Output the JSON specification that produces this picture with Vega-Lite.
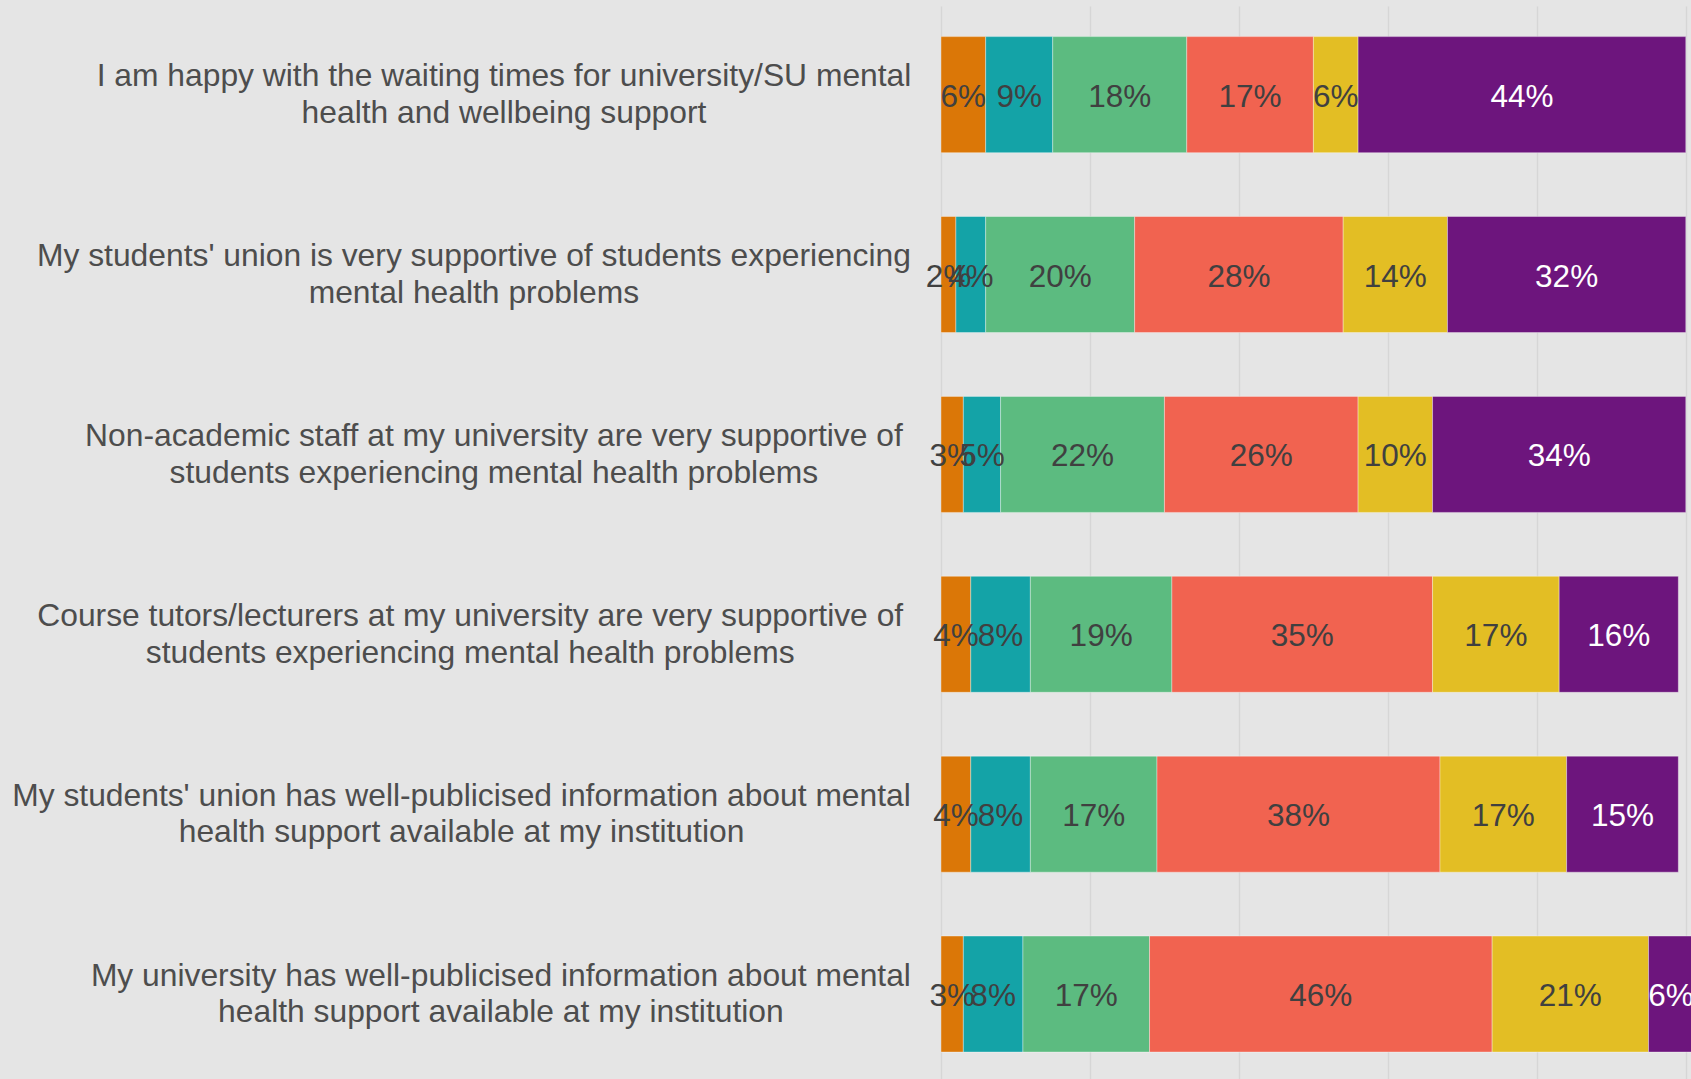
{
  "$schema": "https://vega.github.io/schema/vega-lite/v6.json",
  "width": 750,
  "height": 1073,
  "autosize": {"type": "none"},
  "padding": {"left": 941, "top": 6, "right": 0, "bottom": 0},
  "background": "#e5e5e5",
  "config": {"view": {"stroke": null, "fill": "#e5e5e5"}, "font": "Liberation Sans"},
  "data": {"values": [
    {"q": "I am happy with the waiting times for university/SU mental|health and wellbeing support", "cat": "Strongly disagree", "i": 1, "v": 0.06},
    {"q": "I am happy with the waiting times for university/SU mental|health and wellbeing support", "cat": "Disagree", "i": 2, "v": 0.09},
    {"q": "I am happy with the waiting times for university/SU mental|health and wellbeing support", "cat": "Neither agree nor disagree", "i": 3, "v": 0.18},
    {"q": "I am happy with the waiting times for university/SU mental|health and wellbeing support", "cat": "Agree", "i": 4, "v": 0.17},
    {"q": "I am happy with the waiting times for university/SU mental|health and wellbeing support", "cat": "Strongly agree", "i": 5, "v": 0.06},
    {"q": "I am happy with the waiting times for university/SU mental|health and wellbeing support", "cat": "Don't know", "i": 6, "v": 0.44},
    {"q": "My students' union is very supportive of students experiencing|mental health problems", "cat": "Strongly disagree", "i": 1, "v": 0.02},
    {"q": "My students' union is very supportive of students experiencing|mental health problems", "cat": "Disagree", "i": 2, "v": 0.04},
    {"q": "My students' union is very supportive of students experiencing|mental health problems", "cat": "Neither agree nor disagree", "i": 3, "v": 0.20},
    {"q": "My students' union is very supportive of students experiencing|mental health problems", "cat": "Agree", "i": 4, "v": 0.28},
    {"q": "My students' union is very supportive of students experiencing|mental health problems", "cat": "Strongly agree", "i": 5, "v": 0.14},
    {"q": "My students' union is very supportive of students experiencing|mental health problems", "cat": "Don't know", "i": 6, "v": 0.32},
    {"q": "Non-academic staff at my university are very supportive of|students experiencing mental health problems", "cat": "Strongly disagree", "i": 1, "v": 0.03},
    {"q": "Non-academic staff at my university are very supportive of|students experiencing mental health problems", "cat": "Disagree", "i": 2, "v": 0.05},
    {"q": "Non-academic staff at my university are very supportive of|students experiencing mental health problems", "cat": "Neither agree nor disagree", "i": 3, "v": 0.22},
    {"q": "Non-academic staff at my university are very supportive of|students experiencing mental health problems", "cat": "Agree", "i": 4, "v": 0.26},
    {"q": "Non-academic staff at my university are very supportive of|students experiencing mental health problems", "cat": "Strongly agree", "i": 5, "v": 0.10},
    {"q": "Non-academic staff at my university are very supportive of|students experiencing mental health problems", "cat": "Don't know", "i": 6, "v": 0.34},
    {"q": "Course tutors/lecturers at my university are very supportive of|students experiencing mental health problems", "cat": "Strongly disagree", "i": 1, "v": 0.04},
    {"q": "Course tutors/lecturers at my university are very supportive of|students experiencing mental health problems", "cat": "Disagree", "i": 2, "v": 0.08},
    {"q": "Course tutors/lecturers at my university are very supportive of|students experiencing mental health problems", "cat": "Neither agree nor disagree", "i": 3, "v": 0.19},
    {"q": "Course tutors/lecturers at my university are very supportive of|students experiencing mental health problems", "cat": "Agree", "i": 4, "v": 0.35},
    {"q": "Course tutors/lecturers at my university are very supportive of|students experiencing mental health problems", "cat": "Strongly agree", "i": 5, "v": 0.17},
    {"q": "Course tutors/lecturers at my university are very supportive of|students experiencing mental health problems", "cat": "Don't know", "i": 6, "v": 0.16},
    {"q": "My students' union has well-publicised information about mental|health support available at my institution", "cat": "Strongly disagree", "i": 1, "v": 0.04},
    {"q": "My students' union has well-publicised information about mental|health support available at my institution", "cat": "Disagree", "i": 2, "v": 0.08},
    {"q": "My students' union has well-publicised information about mental|health support available at my institution", "cat": "Neither agree nor disagree", "i": 3, "v": 0.17},
    {"q": "My students' union has well-publicised information about mental|health support available at my institution", "cat": "Agree", "i": 4, "v": 0.38},
    {"q": "My students' union has well-publicised information about mental|health support available at my institution", "cat": "Strongly agree", "i": 5, "v": 0.17},
    {"q": "My students' union has well-publicised information about mental|health support available at my institution", "cat": "Don't know", "i": 6, "v": 0.15},
    {"q": "My university has well-publicised information about mental|health support available at my institution", "cat": "Strongly disagree", "i": 1, "v": 0.03},
    {"q": "My university has well-publicised information about mental|health support available at my institution", "cat": "Disagree", "i": 2, "v": 0.08},
    {"q": "My university has well-publicised information about mental|health support available at my institution", "cat": "Neither agree nor disagree", "i": 3, "v": 0.17},
    {"q": "My university has well-publicised information about mental|health support available at my institution", "cat": "Agree", "i": 4, "v": 0.46},
    {"q": "My university has well-publicised information about mental|health support available at my institution", "cat": "Strongly agree", "i": 5, "v": 0.21},
    {"q": "My university has well-publicised information about mental|health support available at my institution", "cat": "Don't know", "i": 6, "v": 0.06}
  ]},
  "encoding": {
    "y": {
      "field": "q", "type": "nominal", "sort": null,
      "scale": {"paddingInner": 0.355, "paddingOuter": 0.16, "align": 0.532},
      "axis": {
        "title": null, "domain": false, "ticks": false, "tickSize": 0, "grid": false,
        "labelAlign": "center", "labelBaseline": "middle", "labelOffset": -18.4,
        "labelFont": "Liberation Sans", "labelFontSize": 31.8, "labelColor": "#4d4d4d",
        "labelLimit": 0, "labelLineHeight": 36.7, "labelOverlap": false, "labelFlush": false,
        "labelExpr": "split(datum.label, '|')",
        "labelPadding": {
          "condition": [
            {"test": "indexof(datum.value, 'waiting') >= 0", "value": 437.5},
            {"test": "indexof(datum.value, 'union is') >= 0", "value": 467.6},
            {"test": "indexof(datum.value, 'Non-academic') >= 0", "value": 447.6},
            {"test": "indexof(datum.value, 'Course tutors') >= 0", "value": 471.3},
            {"test": "indexof(datum.value, 'union has') >= 0", "value": 480},
            {"test": "indexof(datum.value, 'My university') >= 0", "value": 440.6}
          ],
          "value": 450
        }
      }
    }
  },
  "layer": [
    {
      "mark": {"type": "bar", "clip": true, "stroke": "white", "strokeWidth": 0.6, "strokeOpacity": 0.6},
      "encoding": {
        "x": {
          "field": "v", "type": "quantitative", "stack": "zero",
          "scale": {"domain": [0, 1.007], "nice": false, "zero": true},
          "axis": {
            "values": [0, 0.2, 0.4, 0.6, 0.8, 1.0], "labels": false, "ticks": false,
            "domain": false, "title": null, "grid": true, "gridColor": "#d6d6d6", "gridWidth": 1.4
          }
        },
        "color": {
          "field": "cat", "type": "nominal",
          "scale": {
            "domain": ["Strongly disagree", "Disagree", "Neither agree nor disagree", "Agree", "Strongly agree", "Don't know"],
            "range": ["#DB7707", "#14A3A7", "#5CBB80", "#F16350", "#E3BE24", "#6D157D"]
          },
          "legend": null
        },
        "order": {"field": "i", "type": "quantitative"}
      }
    },
    {
      "mark": {"type": "text", "font": "Liberation Sans", "fontSize": 31.5, "baseline": "middle", "align": "center", "dy": 3},
      "encoding": {
        "x": {"field": "v", "type": "quantitative", "stack": "zero", "bandPosition": 0.5},
        "detail": {"field": "cat"},
        "order": {"field": "i", "type": "quantitative"},
        "text": {"field": "v", "type": "quantitative", "format": ".0%"},
        "color": {"condition": {"test": "datum.cat === \"Don't know\"", "value": "white"}, "value": "#404040"}
      }
    }
  ]
}
